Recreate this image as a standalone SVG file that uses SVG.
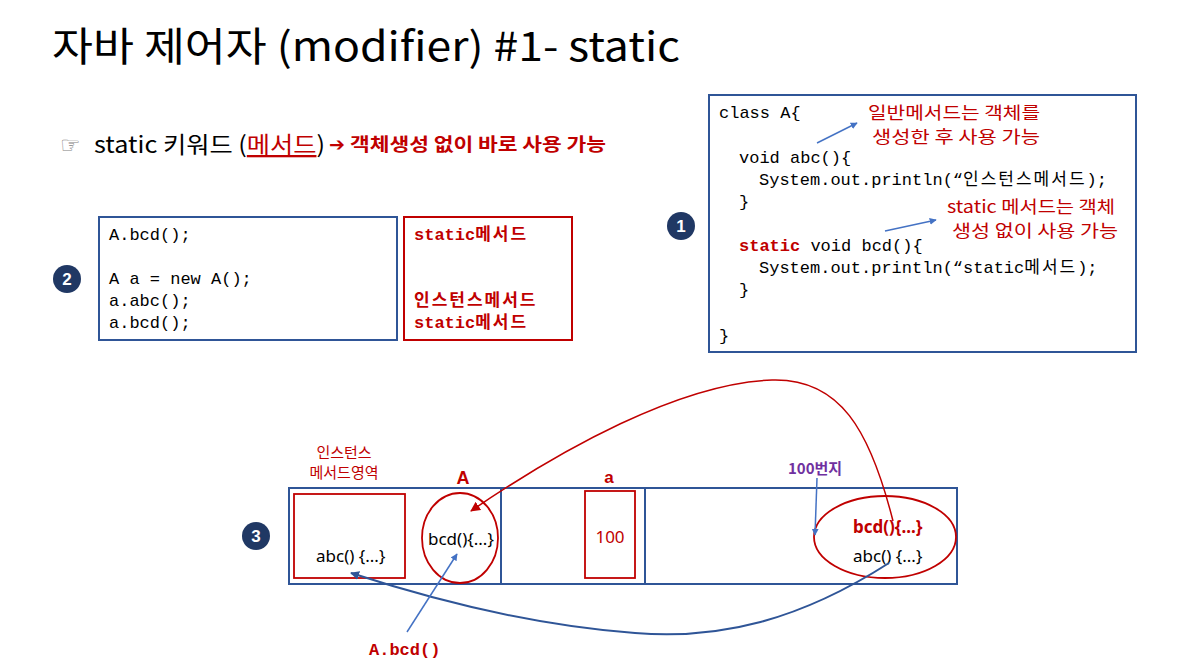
<svg xmlns="http://www.w3.org/2000/svg" width="1188" height="667" viewBox="0 0 1188 667">
<style>
.k{font-family:"Noto Sans CJK KR","Noto Sans",sans-serif}
.code{font-family:"Liberation Mono","Noto Sans CJK KR",monospace;font-size:17px;fill:#000}
.kr{letter-spacing:2px}
.red{fill:#C00000}
.b{font-weight:bold}
.box{fill:#fff;stroke:#2F5597;stroke-width:2}
.rbox{fill:none;stroke:#C00000;stroke-width:1.8}
.num{fill:#203864}
.numt{font-family:"Liberation Sans",sans-serif;font-weight:bold;font-size:17px;fill:#fff;text-anchor:middle}
.bl{fill:none;stroke:#4472C4;stroke-width:1.5}
.rl{fill:none;stroke:#C00000;stroke-width:1.5}
.lbl{font-family:"Noto Sans","Noto Sans CJK KR",sans-serif;font-size:17px}
.note{font-family:"Noto Sans CJK KR","Noto Sans",sans-serif;font-size:17px;fill:#C00000}
</style>
<defs>
<marker id="ab" viewBox="0 0 10 10" refX="9" refY="5" markerWidth="7" markerHeight="7" orient="auto" markerUnits="userSpaceOnUse"><path d="M0,0 L10,5 L0,10 z" fill="#4472C4"/></marker>
<marker id="ab2" viewBox="0 0 10 10" refX="9" refY="5" markerWidth="9" markerHeight="9" orient="auto" markerUnits="userSpaceOnUse"><path d="M0,0 L10,5 L0,10 z" fill="#2F5597"/></marker>
<marker id="ar" viewBox="0 0 10 10" refX="9" refY="5" markerWidth="10" markerHeight="10" orient="auto" markerUnits="userSpaceOnUse"><path d="M0,0 L10,5 L0,10 z" fill="#C00000"/></marker>
</defs>
<rect width="1188" height="667" fill="#fff"/>

<g id="title">
<text x="52" y="61" class="k" font-size="40" fill="#000" textLength="628" lengthAdjust="spacingAndGlyphs">자바 제어자 (modifier) #1- static</text>
</g>

<g id="subtitle">
<text x="60" y="153" font-family="DejaVu Sans,sans-serif" font-size="23" fill="#7F7F7F">☞</text>
<text x="94" y="153" class="k" font-size="23" fill="#000" textLength="231" lengthAdjust="spacingAndGlyphs">static 키워드 (<tspan fill="#C00000" text-decoration="underline">메서드</tspan>)</text>
<text x="329" y="151" font-family="DejaVu Sans,sans-serif" font-weight="bold" font-size="19" fill="#C00000">➔</text>
<text x="350" y="151" class="k b red" font-size="18" textLength="256" lengthAdjust="spacingAndGlyphs">객체생성 없이 바로 사용 가능</text>
</g>

<g id="code1">
<rect x="709" y="95" width="427" height="257" class="box"/>
<text x="719" y="118" class="code">class A{</text>
<text x="739" y="163" class="code">void abc(){</text>
<text x="759" y="185" class="code">System.out.println(“<tspan class="kr">인스턴스메서드</tspan>);</text>
<text x="739" y="207" class="code">}</text>
<text x="739" y="251" class="code"><tspan class="red b">static</tspan> void bcd(){</text>
<text x="759" y="273" class="code">System.out.println(“static<tspan class="kr">메서드</tspan>);</text>
<text x="739" y="295" class="code">}</text>
<text x="719" y="341" class="code">}</text>
<text x="868" y="119" class="note" textLength="172" lengthAdjust="spacingAndGlyphs">일반메서드는 객체를</text>
<text x="872" y="143" class="note" textLength="168" lengthAdjust="spacingAndGlyphs">생성한 후 사용 가능</text>
<text x="947" y="213" class="note" textLength="168" lengthAdjust="spacingAndGlyphs">static 메서드는 객체</text>
<text x="952" y="237" class="note" textLength="166" lengthAdjust="spacingAndGlyphs">생성 없이 사용 가능</text>
</g>

<g id="badge1"><circle cx="681" cy="226" r="14" class="num"/><text x="681" y="232" class="numt">1</text></g>
<g id="badge2"><circle cx="67" cy="279" r="14" class="num"/><text x="67" y="285" class="numt">2</text></g>
<g id="badge3"><circle cx="256" cy="536" r="14" class="num"/><text x="256" y="542" class="numt">3</text></g>

<g id="code2">
<rect x="99" y="217" width="298" height="123" class="box"/>
<text x="109" y="240" class="code">A.bcd();</text>
<text x="109" y="284" class="code">A a = new A();</text>
<text x="109" y="306" class="code">a.abc();</text>
<text x="109" y="328" class="code">a.bcd();</text>
</g>

<g id="result2">
<rect x="404" y="217" width="168" height="123" fill="#fff" stroke="#C00000" stroke-width="2"/>
<text x="414" y="240" class="code red b">static<tspan class="kr">메서드</tspan></text>
<text x="414" y="306" class="code red b kr">인스턴스메서드</text>
<text x="414" y="328" class="code red b">static<tspan class="kr">메서드</tspan></text>
</g>

<g id="memory">
<rect x="289" y="488" width="668" height="96" class="box" fill="none"/>
<line x1="501" y1="488" x2="501" y2="584" stroke="#2F5597" stroke-width="2"/>
<line x1="645" y1="488" x2="645" y2="584" stroke="#2F5597" stroke-width="2"/>
</g>

<g id="instance-area">
<text x="344" y="458" class="k red" font-size="15" text-anchor="middle">인스턴스</text>
<text x="344" y="478" class="k red" font-size="15" text-anchor="middle">메서드영역</text>
<rect x="294" y="494" width="111" height="84" class="rbox"/>
<text x="316" y="562" class="lbl">abc() {...}</text>
</g>

<g id="classA">
<text x="463" y="484" font-family="Liberation Sans,sans-serif" font-weight="bold" font-size="18" class="red" text-anchor="middle">A</text>
<ellipse cx="460" cy="538" rx="38" ry="45" class="rbox"/>
<text x="428" y="545" class="lbl">bcd(){...}</text>
</g>

<g id="varA">
<text x="609" y="483" font-family="Liberation Sans,sans-serif" font-weight="bold" font-size="17" class="red" text-anchor="middle">a</text>
<rect x="585" y="491" width="50" height="87" class="rbox"/>
<text x="610" y="543" class="lbl red" font-size="18" text-anchor="middle">100</text>
</g>

<g id="object">
<text x="788" y="474" class="k b" font-size="15" fill="#7030A0">100번지</text>
<ellipse cx="885" cy="537" rx="71" ry="41" class="rbox"/>
<text x="853" y="533" class="lbl red b">bcd(){...}</text>
<text x="853" y="562" class="lbl">abc() {...}</text>
</g>

<g id="callLabel">
<text x="369" y="655" class="code red b">A.bcd()</text>
</g>

<g id="connectors">
<line x1="817" y1="143" x2="857" y2="123" class="bl" marker-end="url(#ab)"/>
<line x1="885" y1="231" x2="936" y2="220" class="bl" marker-end="url(#ab)"/>
<path d="M893 521 C870 430 840 378 772 380 C680 383 560 450 471 511" class="rl" marker-end="url(#ar)"/>
<path d="M889 563 C800 620 720 640 635 633 C540 626 440 602 351 573" fill="none" stroke="#2F5597" stroke-width="2" marker-end="url(#ab2)"/>
<line x1="407" y1="632" x2="457" y2="554" class="bl" marker-end="url(#ab)"/>
<line x1="817" y1="478" x2="815" y2="535" class="bl" marker-end="url(#ab)"/>
</g>
</svg>
